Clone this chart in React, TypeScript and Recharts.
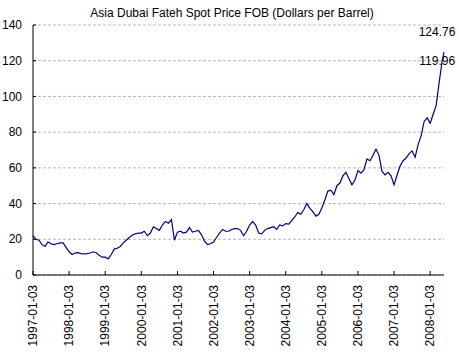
import React from 'react'
import { LineChart, Line, XAxis, YAxis, CartesianGrid, LabelList } from 'recharts'

const startYear = 1997
const yearTicks = [0, 12, 24, 36, 48, 60, 72, 84, 96, 108, 120, 132]
const priceTicks = [0, 20, 40, 60, 80, 100, 120, 140]

// one reading per month from Jan 1997
const monthlyPrices = [
  22, 20, 19.5, 17, 16, 18.5, 17.5, 17, 17.5, 18, 18, 15.5,
  13, 11.5, 12.3, 12.5, 12, 11.8, 12, 12.3, 13, 12.5, 11, 10,
  10, 9, 11.5, 14.5, 15, 16, 18, 19.5, 21, 22.4, 23, 23.5,
  23.5, 24.5, 22, 23.5, 27, 26, 25, 28, 30, 29, 31, 19.5,
  24, 24.5, 23.5, 24, 26.5, 24, 24.5, 25, 22.5, 19, 17, 17.5,
  18.5, 21, 23.5, 25.5, 24.5, 24.5, 25.5, 26, 26, 25, 22, 24.5,
  28, 30, 28, 23.5, 23, 25, 26, 26.5, 27, 25.5, 28, 27.5,
  28.8, 28.5, 30.5, 32.5, 35, 34, 36.5, 40, 37.5, 35.5, 33, 34,
  37.5, 42, 47, 47.5, 45, 50, 51.5, 55.5, 57.5, 54, 50.5, 53,
  58.5, 57, 59, 65, 64, 67, 70.5, 67, 58, 56, 57.5, 55.5,
  50.5, 56, 61, 64, 65.5, 68, 69.5, 66, 73, 78, 86, 88,
  85, 90, 95, 108,
]
// the last two weekly quotes (May 2008), labelled on the chart
const finalMonths = [136, 136.6]
const finalPrices = [119.96, 124.76]

const data = [
  ...monthlyPrices.map((price, m) => ({ m, price })),
  ...finalMonths.map((m, i) => ({ m, price: finalPrices[i] })),
]

const font = '"Liberation Sans", Arial, sans-serif'

const XTick = ({ x, y, payload }: any) => {
  const label = `${startYear + Math.round(payload.value / 12)}-01-03`
  return (
    <g>
      <line x1={x} x2={x} y1={y} y2={y - 4} stroke="#000" />
      <text
        x={x}
        y={y + 10}
        dy="0.35em"
        transform={`rotate(-90 ${x} ${y + 10})`}
        textAnchor="end"
        fontSize={12}
        fontFamily={font}
        fill="#000"
      >
        {label}
      </text>
    </g>
  )
}

const YTick = ({ x, y, payload }: any) => (
  <g>
    <line x1={x} x2={x + 3} y1={y} y2={y} stroke="#000" />
    <text x={x - 11} y={y} dy="0.35em" textAnchor="end" fontSize={12} fontFamily={font} fill="#000">
      {payload.value}
    </text>
  </g>
)

const EndLabel = (props: any) => {
  const { x, y, index, value } = props
  const first = data.length - 2
  if (index < first) return null
  const isLast = index === data.length - 1
  return (
    <text
      x={x - (isLast ? 7 : 5)}
      y={isLast ? y - 20 : y}
      dy="0.35em"
      textAnchor="middle"
      fontSize={12}
      fontFamily={font}
      fill="#000"
    >
      {value}
    </text>
  )
}

export default function App() {
  return (
    <div style={{ position: 'absolute', left: 0, top: 0, width: 459, height: 359, background: '#fff' }}>
      <div
        style={{
          position: 'absolute',
          top: 6,
          left: 5,
          width: 454,
          textAlign: 'center',
          fontFamily: font,
          fontSize: 12,
          lineHeight: '15px',
          color: '#000',
        }}
      >
        Asia Dubai Fateh Spot Price FOB (Dollars per Barrel)
      </div>
      <LineChart width={459} height={359} data={data} margin={{ top: 25, right: 15, bottom: 0, left: 0 }}>
        <CartesianGrid vertical={false} stroke="#b8b8b8" strokeDasharray="3 2" />
        <XAxis
          dataKey="m"
          type="number"
          domain={[0, 136.6]}
          ticks={yearTicks}
          tick={<XTick />}
          tickSize={0}
          tickMargin={0}
          tickLine={false}
          height={84}
          stroke="#000"
          interval={0}
        />
        <YAxis
          domain={[0, 140]}
          ticks={priceTicks}
          tick={<YTick />}
          tickSize={0}
          tickMargin={0}
          tickLine={false}
          width={33}
          stroke="#000"
          interval={0}
        />
        <Line
          type="linear"
          dataKey="price"
          stroke="#000080"
          strokeWidth={1.2}
          dot={false}
          isAnimationActive={false}
        >
          <LabelList dataKey="price" content={<EndLabel />} />
        </Line>
      </LineChart>
    </div>
  )
}
